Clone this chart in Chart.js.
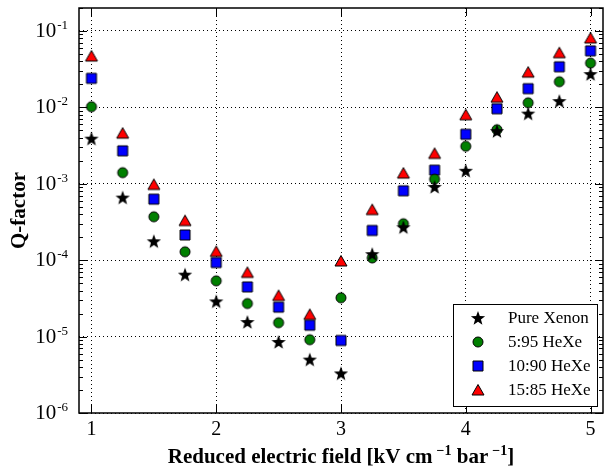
<!DOCTYPE html>
<html>
<head>
<meta charset="utf-8">
<script src="https://cdn.jsdelivr.net/npm/chart.js@4/dist/chart.umd.min.js"></script>
<style>
html,body{margin:0;padding:0;background:#fff}
</style>
</head>
<body>
<canvas id="myChart" width="611" height="470"></canvas>
<script>
// reduced electric field, kV/cm/bar
const fields=[1,1.25,1.5,1.75,2,2.25,2.5,2.75,3,3.25,3.5,3.75,4,4.25,4.5,4.75,5];
const pureXenon=[0.0039,0.00066,0.000177,0.0000647,0.0000289,0.0000155,0.0000085,0.0000050,0.0000033,0.00012,0.00027,0.00091,0.00148,0.0049,0.0083,0.0121,0.0273];
const heXe5=[0.0102,0.0014,0.00037,0.000129,0.0000537,0.0000271,0.0000152,0.0000091,0.0000322,0.000107,0.00030,0.00115,0.0031,0.0051,0.0115,0.0217,0.038];
const heXe10=[0.024,0.0027,0.00063,0.000214,0.0000933,0.0000447,0.0000243,0.0000141,0.0000089,0.000245,0.00081,0.00151,0.00445,0.0096,0.0176,0.034,0.055];
const heXe15=[0.047,0.0046,0.00098,0.00033,0.00013,0.0000692,0.0000345,0.0000195,0.0000977,0.00046,0.00138,0.0025,0.008,0.0136,0.0289,0.052,0.081];
const seriesNames=['Pure Xenon','5:95 HeXe','10:90 HeXe','15:85 HeXe'];
const xTicks=[1,2,3,4,5];
const yTicks=[1e-6,1e-5,1e-4,1e-3,1e-2,1e-1];

const serif="'Liberation Serif', 'Times New Roman', serif";

function marker(kind){
  let c=document.createElement('canvas');
  c.width=18;c.height=18;
  let g=c.getContext('2d');
  g.lineWidth=1;g.strokeStyle='#000';
  g.beginPath();
  if(kind=='star'){
    for(let i=0;i<10;i++){
      let r=i%2==0?7.5:3.1;
      let a=-Math.PI/2+i*Math.PI/5;
      let px=9+r*Math.cos(a),py=9.6+r*Math.sin(a);
      if(i==0) g.moveTo(px,py); else g.lineTo(px,py);
    }
    g.closePath();
    g.fillStyle='#000';g.fill();
  }
  else if(kind=='circle'){
    g.arc(9,9,5,0,Math.PI*2);
    g.fillStyle='#008000';g.fill();g.stroke();
  }
  else if(kind=='square'){
    g.rect(4,4,10,10);
    g.fillStyle='#0000ff';g.fill();g.stroke();
  }
  else{
    g.moveTo(9,3.5);g.lineTo(15,14);g.lineTo(3,14);g.closePath();
    g.fillStyle='#ff0000';g.fill();g.stroke();
  }
  return c;
}
const markers=[marker('star'),marker('circle'),marker('square'),marker('tri')];

function toPoints(arr){ return arr.map((v,i)=>({x:fields[i],y:v})); }

const framePlugin={
  id:'frame',
  afterDatasetsDraw(chart){
    const ctx=chart.ctx;
    const a=chart.chartArea;
    const xs=chart.scales.x, ys=chart.scales.y;
    ctx.save();
    // inward ticks
    ctx.strokeStyle='#000';ctx.lineWidth=1;
    ctx.beginPath();
    for(let d=-6;d<=-1;d++){
      for(let m=1;m<10;m++){
        let v=m*Math.pow(10,d);
        if(v>0.2) break;
        let y=Math.round(ys.getPixelForValue(v))+0.5;
        let len=m==1?8:4;
        ctx.moveTo(a.left,y);ctx.lineTo(a.left+len,y);
        ctx.moveTo(a.right,y);ctx.lineTo(a.right-len,y);
      }
    }
    xTicks.forEach(v=>{
      let x=Math.round(xs.getPixelForValue(v))+0.5;
      ctx.moveTo(x,a.top);ctx.lineTo(x,a.top+8);
      ctx.moveTo(x,a.bottom);ctx.lineTo(x,a.bottom-8);
    });
    ctx.stroke();
    ctx.lineWidth=1.5;
    ctx.strokeRect(a.left,a.top,a.right-a.left,a.bottom-a.top);

    // tick labels
    ctx.fillStyle='#000';
    ctx.textAlign='center';ctx.textBaseline='alphabetic';
    ctx.font='20px '+serif;
    xTicks.forEach(v=>{
      ctx.fillText(String(v),xs.getPixelForValue(v),a.bottom+22);
    });
    yTicks.forEach(v=>{
      let y=ys.getPixelForValue(v);
      let sup=String(Math.round(Math.log10(v)));
      ctx.font='13px '+serif;
      let sw=ctx.measureText(sup).width;
      let right=a.left-11;
      ctx.textAlign='right';
      ctx.fillText(sup,right,y-2);
      ctx.font='21px '+serif;
      ctx.fillText('10',right-sw-1,y+6);
    });

    // axis titles
    ctx.textAlign='left';
    let parts=[['Reduced electric field [kV cm',0],['\u22121',1],[' bar',0],['\u22121',1],[']',0]];
    let fnt=p=>(p[1]?'bold 14px ':'bold 21px ')+serif;
    let total=0;
    parts.forEach(p=>{ctx.font=fnt(p);total+=ctx.measureText(p[0]).width+(p[1]?4:0);});
    let cx=(a.left+a.right)/2-total/2;
    parts.forEach(p=>{
      ctx.font=fnt(p);
      if(p[1]) cx+=4;
      ctx.fillText(p[0],cx,p[1]?455:463);
      cx+=ctx.measureText(p[0]).width;
    });
    ctx.save();
    ctx.translate(25,(a.top+a.bottom)/2);
    ctx.rotate(-Math.PI/2);
    ctx.textAlign='center';
    ctx.font='bold 21px '+serif;
    ctx.fillText('Q-factor',0,0);
    ctx.restore();

    // legend
    let lx=453,ly=304,lw=144,lh=102;
    ctx.fillStyle='#fff';
    ctx.fillRect(lx,ly,lw,lh);
    ctx.lineWidth=1;ctx.strokeStyle='#000';
    ctx.strokeRect(lx+0.5,ly+0.5,lw,lh);
    ctx.font='17px '+serif;ctx.textAlign='left';ctx.textBaseline='middle';
    seriesNames.forEach((n,i)=>{
      let yy=318+i*24;
      ctx.drawImage(markers[i],478-9,yy-9);
      ctx.fillStyle='#000';
      ctx.fillText(n,508,yy+1);
    });
    ctx.restore();
  }
};

const ctx=document.getElementById('myChart').getContext('2d');
const sets=[pureXenon,heXe5,heXe10,heXe15];
new Chart(ctx,{
  type:'scatter',
  data:{
    datasets:sets.map((s,i)=>({
      label:seriesNames[i],
      data:toPoints(s),
      pointStyle:markers[i],
      pointRadius:7,
      pointHoverRadius:7
    }))
  },
  options:{
    responsive:false,
    animation:false,
    events:[],
    layout:{padding:{left:79,top:5,right:5,bottom:57}},
    plugins:{legend:{display:false},tooltip:{enabled:false}},
    scales:{
      x:{
        type:'linear',min:0.9,max:5.1,
        afterBuildTicks:s=>{s.ticks=xTicks.map(v=>({value:v}));},
        ticks:{display:false},
        border:{display:false,dash:[1,3]},
        grid:{color:'#000',lineWidth:1,drawTicks:false}
      },
      y:{
        type:'logarithmic',min:1e-6,max:0.2,
        afterBuildTicks:s=>{s.ticks=yTicks.map(v=>({value:v}));},
        ticks:{display:false},
        border:{display:false,dash:[1,3]},
        grid:{color:'#000',lineWidth:1,drawTicks:false}
      }
    }
  },
  plugins:[framePlugin]
});
</script>
</body>
</html>
